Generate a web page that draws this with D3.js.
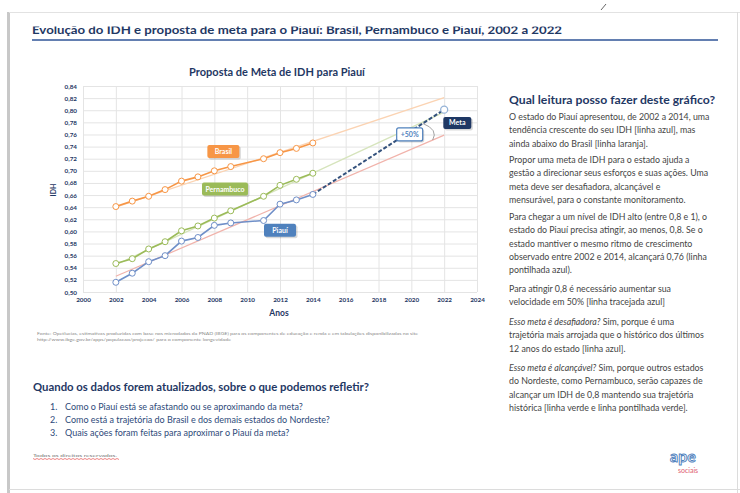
<!DOCTYPE html>
<html><head><meta charset="utf-8">
<script src="https://cdn.jsdelivr.net/npm/d3@7"></script>
<style>
html,body{margin:0;padding:0;background:#fff;}
svg{display:block;font-family:Lato,"Open Sans",sans-serif;}
</style></head><body>
<svg id="c" width="740" height="493"></svg>
<script>
// ---- data ----
const years = [2002,2003,2004,2005,2006,2007,2008,2009,2011,2012,2013,2014];
const brasil = [0.641,0.650,0.658,0.669,0.683,0.690,0.700,0.707,0.720,0.730,0.737,0.746];
const pernambuco = [0.547,0.555,0.571,0.583,0.601,0.609,0.622,0.634,0.658,0.676,0.686,0.696];
const piaui = [0.516,0.531,0.550,0.560,0.584,0.590,0.610,0.614,0.618,0.645,0.652,0.661];
const trendYears = [2002,2022];
const brasilTrend = [0.640,0.821];
const pernambucoTrend = [0.545,0.797];
const piauiTrend = [0.526,0.759];
const metaYears = [2014,2022];
const meta = [0.661,0.801];
const xTicks = [2000,2002,2004,2006,2008,2010,2012,2014,2016,2018,2020,2022,2024];
const yTicks = [0.50,0.52,0.54,0.56,0.58,0.60,0.62,0.64,0.66,0.68,0.70,0.72,0.74,0.76,0.78,0.80,0.82,0.84];

const navy = "#1f3864";
const svg = d3.select("#c");

// ---- slide frame ----
svg.append("rect").attr("x",0).attr("y",0).attr("width",740).attr("height",493).attr("fill","#fff");
svg.append("rect").attr("x",7).attr("y",12).attr("width",3).attr("height",481).attr("fill","#c8c8c8");
svg.append("line").attr("x1",9).attr("x2",740).attr("y1",12.5).attr("y2",12.5).attr("stroke","#e2e2e2");
svg.append("line").attr("x1",737.5).attr("x2",737.5).attr("y1",12).attr("y2",493).attr("stroke","#dcdcdc");
svg.append("line").attr("x1",9).attr("x2",740).attr("y1",489.5).attr("y2",489.5).attr("stroke","#dcdcdc");

// slide title (top of letters clipped as in the reference)
svg.append("text").attr("x",32).attr("y",34).attr("fill",navy)
  .style("font-size","12px").style("font-weight","bold").attr("textLength",530).attr("lengthAdjust","spacingAndGlyphs")
  .text("Evolução do IDH e proposta de meta para o Piauí: Brasil, Pernambuco e Piauí, 2002 a 2022");
svg.append("rect").attr("x",14).attr("y",14).attr("width",720).attr("height",12.5).attr("fill","#fff");
svg.append("line").attr("x1",601).attr("y1",10).attr("x2",606).attr("y2",4).attr("stroke","#666").attr("stroke-width",1);
svg.append("line").attr("x1",32).attr("x2",718).attr("y1",40).attr("y2",40).attr("stroke","#2f5597").attr("stroke-width",1.5);

// ---- chart ----
const x = d3.scaleLinear().domain([2000,2024]).range([83,477]);
const y = d3.scaleLinear().domain([0.50,0.84]).range([292,86]);
const fmt = d => d3.format(".2f")(d).replace(".",",");

svg.append("text").attr("x",277).attr("y",76).attr("text-anchor","middle").attr("fill",navy)
  .style("font-size","11px").style("font-weight","bold").text("Proposta de Meta de IDH para Piauí");

const gy = svg.append("g").attr("transform",`translate(${x(2000)},0)`)
  .call(d3.axisLeft(y).tickValues(yTicks).tickFormat(fmt).tickSize(-(x(2024)-x(2000))).tickPadding(6));
gy.select(".domain").remove();
gy.selectAll("line").attr("stroke","#e4e4e4");
gy.selectAll("text").attr("fill",navy).style("font-size","6.3px").style("font-weight","bold").style("font-family","Lato,sans-serif");

const gx = svg.append("g").attr("transform",`translate(0,${y(0.50)})`)
  .call(d3.axisBottom(x).tickValues(xTicks).tickFormat(d3.format("d")).tickSize(-(y(0.50)-y(0.84))).tickPadding(6));
gx.select(".domain").remove();
gx.selectAll("line").attr("stroke","#e4e4e4");
gx.selectAll("text").attr("fill",navy).style("font-size","6.3px").style("font-weight","bold").style("font-family","Lato,sans-serif");

svg.append("text").attr("transform","translate(56,190) rotate(-90)").attr("text-anchor","middle")
  .attr("fill",navy).style("font-size","7px").style("font-weight","bold").text("IDH");
svg.append("text").attr("x",279).attr("y",316).attr("text-anchor","middle")
  .attr("fill",navy).style("font-size","8.5px").style("font-weight","bold").text("Anos");

const line = d3.line().x(d=>x(d[0])).y(d=>y(d[1]));
const zip = (a,b) => a.map((v,i)=>[v,b[i]]);

// trend lines
svg.append("path").attr("d",line(zip(trendYears,brasilTrend))).attr("fill","none").attr("stroke","#fbd3b2").attr("stroke-width",1.3);
svg.append("path").attr("d",line(zip(trendYears,pernambucoTrend))).attr("fill","none").attr("stroke","#d6e4bc").attr("stroke-width",1.3);
svg.append("path").attr("d",line(zip(trendYears,piauiTrend))).attr("fill","none").attr("stroke","#f1b3ab").attr("stroke-width",1.2);

// meta dashed
svg.append("path").attr("d",line(zip(metaYears,meta))).attr("fill","none").attr("stroke","#34527d").attr("stroke-width",2).attr("stroke-dasharray","4,2");
svg.append("circle").attr("cx",x(metaYears[1])).attr("cy",y(meta[1])).attr("r",3.5).attr("fill","#fff").attr("stroke","#95b3d7").attr("stroke-width",1.3);

const series = [
  {vals:brasil, color:"#f79646"},
  {vals:pernambuco, color:"#9bbb59"},
  {vals:piaui, color:"#6f8fc8"}
];
series.forEach(s=>{
  const pts = zip(years,s.vals);
  svg.append("path").attr("d",line(pts)).attr("fill","none").attr("stroke",s.color).attr("stroke-width",1.6);
  svg.selectAll(null).data(pts).enter().append("circle")
    .attr("cx",d=>x(d[0])).attr("cy",d=>y(d[1])).attr("r",3)
    .attr("fill","#fff").attr("stroke",s.color).attr("stroke-width",1);
});

// angle arc
const a1 = [x(2020.7), y(meta[0] + (meta[1]-meta[0])*(2020.7-2014)/8)];
const a2 = [x(2021.3), y(piauiTrend[0] + (piauiTrend[1]-piauiTrend[0])*(2021.3-2002)/20)];
svg.append("path").attr("d",`M${a1[0]},${a1[1]} Q${a2[0]+6},${(a1[1]+a2[1])/2-2} ${a2[0]},${a2[1]}`)
  .attr("fill","none").attr("stroke","#8a8a8a").attr("stroke-width",0.8);

// labels
function label(cx,cy,w,h,fill,stroke,txt,tcolor){
  const g = svg.append("g");
  g.append("rect").attr("x",cx-w/2+1.5).attr("y",cy-h/2+1.5).attr("width",w).attr("height",h).attr("rx",2).attr("fill","rgba(0,0,0,0.15)");
  g.append("rect").attr("x",cx-w/2).attr("y",cy-h/2).attr("width",w).attr("height",h).attr("rx",2)
    .attr("fill",fill).attr("stroke",stroke||"none").attr("stroke-width",1.2);
  g.append("text").attr("x",cx).attr("y",cy+2.5).attr("text-anchor","middle").attr("fill",tcolor||"#fff")
    .style("font-size","7px").style("font-weight","bold").text(txt);
}
label(x(2008.55), y(0.732), 32, 13, "#f79646", null, "Brasil");
label(x(2008.65), y(0.670), 46, 13, "#9bbb59", null, "Pernambuco");
label(x(2012.0), y(0.602), 32, 13, "#4f81bd", null, "Piauí");
label(x(2022.8), y(0.779), 28, 12, "#1f3864", null, "Meta");
label(x(2019.9), y(0.760), 26, 13, "#fff", "#4f81bd", "+50%", "#4f81bd");

// source
const src = svg.append("g").attr("fill","#8a8a8a").style("font-size","3.9px");
src.append("text").attr("x",37).attr("y",335).attr("textLength",381).attr("lengthAdjust","spacingAndGlyphs")
  .text("Fonte: Opetlucias, estimativas produzidas com base nos microdados da PNAD (IBGE) para os componentes de educação e renda e em tabulações disponibilizadas no site");
src.append("text").attr("x",37).attr("y",341).attr("textLength",194).attr("lengthAdjust","spacingAndGlyphs")
  .text("http://www.ibge.gov.br/apps/populacao/projecao/ para o componente longevidade");

// ---- right column ----
svg.append("text").attr("x",509).attr("y",104).attr("fill",navy).style("font-size","11px").style("font-weight","bold")
  .attr("textLength",206).attr("lengthAdjust","spacingAndGlyphs").text("Qual leitura posso fazer deste gráfico?");

const bodyColor = "#444";
const para = [
  {y:120, lines:[["O estado do Piauí apresentou, de 2002 a 2014, uma"],["tendência crescente do seu IDH [linha azul], mas"],["ainda abaixo do Brasil [linha laranja]."]]},
  {y:163, lines:[["Propor uma meta de IDH para o estado ajuda a"],["gestão a direcionar seus esforços e suas ações. Uma"],["meta deve ser desafiadora, alcançável e"],["mensurável, para o constante monitoramento."]]},
  {y:220, lines:[["Para chegar a um nível de IDH alto (entre 0,8 e 1), o"],["estado do Piauí precisa atingir, ao menos, 0,8. Se o"],["estado mantiver o mesmo ritmo de crescimento"],["observado entre 2002 e 2014, alcançará 0,76 (linha"],["pontilhada azul)."]]},
  {y:292, lines:[["Para atingir 0,8 é necessário aumentar sua"],["velocidade em 50% [linha tracejada azul]"]]},
  {y:325, lines:[["Esso meta é desafiadora?"," Sim, porque é uma"],["trajetória mais arrojada que o histórico dos últimos"],["12 anos do estado [linha azul]."]]},
  {y:371, lines:[["Esso meta é alcançável?"," Sim, porque outros estados"],["do Nordeste, como Pernambuco, serão capazes de"],["alcançar um IDH de 0,8 mantendo sua trajetória"],["histórica [linha verde e linha pontilhada verde]."]]}
];
para.forEach(p=>{
  p.lines.forEach((ln,i)=>{
    const t = svg.append("text").attr("x",509).attr("y",p.y+i*13.3).attr("fill",bodyColor).style("font-size","8.8px");
    if(ln.length===2){
      t.append("tspan").style("font-style","italic").text(ln[0]);
      t.append("tspan").text(ln[1]);
    } else t.text(ln[0]);
  });
});

// ---- bottom left ----
svg.append("text").attr("x",33).attr("y",391).attr("fill",navy).style("font-size","11px").style("font-weight","bold")
  .attr("textLength",336).attr("lengthAdjust","spacingAndGlyphs")
  .text("Quando os dados forem atualizados, sobre o que podemos refletir?");
const items = ["Como o Piauí está se afastando ou se aproximando da meta?",
  "Como está a trajetória do Brasil e dos demais estados do Nordeste?",
  "Quais ações foram feitas para aproximar o Piauí da meta?"];
items.forEach((t,i)=>{
  svg.append("text").attr("x",50).attr("y",410+i*13).attr("fill","#2e4a7a").style("font-size","9px").text((i+1)+".");
  svg.append("text").attr("x",65).attr("y",410+i*13).attr("fill","#2e4a7a").style("font-size","9px").text(t);
});
svg.append("text").attr("x",33).attr("y",457).attr("fill","#777").style("font-size","4.6px")
  .attr("textLength",84).attr("lengthAdjust","spacingAndGlyphs").text("Todos os direitos reservados.");
svg.append("path").attr("d","M33,458.5 l2,1 l2,-1 l2,1 l2,-1 l2,1 l2,-1 l2,1 l2,-1 l2,1 l2,-1 l2,1 l2,-1 l2,1 l2,-1 l2,1 l2,-1 l2,1 l2,-1 l2,1 l2,-1 l2,1 l2,-1 l2,1 l2,-1 l2,1 l2,-1 l2,1 l2,-1 l2,1 l2,-1 l2,1 l2,-1 l2,1 l2,-1 l2,1 l2,-1 l2,1 l2,-1 l2,1 l2,-1 l2,1 l2,-1 l2,1")
  .attr("fill","none").attr("stroke","#e03030").attr("stroke-width",0.6);

// logo
svg.append("text").attr("x",683).attr("y",462).attr("text-anchor","middle").attr("fill","#fff").attr("stroke","#4f81bd").attr("stroke-width",0.9)
  .style("font-size","16px").style("font-weight","bold").text("ape");
svg.append("text").attr("x",688).attr("y",473).attr("text-anchor","middle").attr("fill","#e06070").style("font-size","7px").text("sociais");
</script>
</body></html>
